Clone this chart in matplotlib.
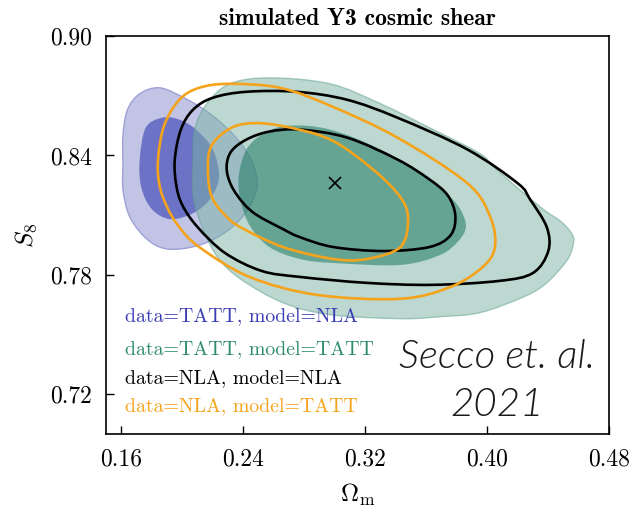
import numpy as np
import matplotlib
matplotlib.use("Agg")
import matplotlib.pyplot as plt
from matplotlib.path import Path
from matplotlib.patches import PathPatch
from matplotlib.ticker import FixedLocator, FormatStrFormatter

plt.rcParams['font.family'] = 'serif'
plt.rcParams['font.serif'] = ['cmr10']
plt.rcParams['mathtext.fontset'] = 'cm'
plt.rcParams['axes.formatter.use_mathtext'] = True

# contour outlines (Omega_m, S8), 68% and 95% levels
blue_95_om = [0.161, 0.161, 0.165, 0.174, 0.185, 0.198, 0.215, 0.231, 0.243, 0.249, 0.245, 0.234, 0.218, 0.201, 0.185, 0.172, 0.164, 0.161]
blue_95_s8 = [0.835, 0.823, 0.810, 0.800, 0.794, 0.793, 0.796, 0.803, 0.813, 0.825, 0.838, 0.850, 0.861, 0.869, 0.874, 0.871, 0.863, 0.850]
blue_68_om = [0.187, 0.198, 0.209, 0.220, 0.224, 0.218, 0.207, 0.192, 0.180, 0.173, 0.172, 0.176]
blue_68_s8 = [0.859, 0.858, 0.853, 0.843, 0.829, 0.818, 0.811, 0.808, 0.813, 0.824, 0.838, 0.854]

green_95_om = [0.257, 0.231, 0.216, 0.208, 0.207, 0.207, 0.213, 0.223, 0.238, 0.266, 0.297, 0.343, 0.369, 0.395,
               0.424, 0.439, 0.452, 0.456, 0.456, 0.448, 0.435, 0.406, 0.395, 0.362, 0.330, 0.297]
green_95_s8 = [0.879, 0.876, 0.866, 0.853, 0.838, 0.820, 0.804, 0.789, 0.778, 0.766, 0.760, 0.758, 0.759, 0.761,
               0.769, 0.776, 0.787, 0.794, 0.800, 0.807, 0.814, 0.833, 0.841, 0.854, 0.866, 0.876]
green_68_om = [0.270, 0.253, 0.242, 0.237, 0.238, 0.244, 0.257, 0.277, 0.299, 0.343, 0.369, 0.381, 0.386, 0.383, 0.376, 0.362, 0.330, 0.297]
green_68_s8 = [0.855, 0.851, 0.843, 0.830, 0.818, 0.805, 0.794, 0.788, 0.786, 0.785, 0.790, 0.797, 0.804, 0.812, 0.819, 0.828, 0.843, 0.853]

black_95_om = [0.195, 0.196, 0.200, 0.210, 0.228, 0.252, 0.277, 0.321, 0.364, 0.408, 0.430, 0.440, 0.439, 0.428,
               0.420, 0.387, 0.341, 0.308, 0.275, 0.242, 0.220, 0.207, 0.199]
black_95_s8 = [0.838, 0.825, 0.815, 0.804, 0.791, 0.782, 0.779, 0.776, 0.775, 0.777, 0.781, 0.792, 0.804, 0.818,
               0.826, 0.843, 0.859, 0.868, 0.872, 0.872, 0.869, 0.863, 0.853]
black_68_om = [0.229, 0.232, 0.242, 0.257, 0.277, 0.308, 0.341, 0.362, 0.374, 0.379, 0.376, 0.362, 0.332, 0.299, 0.277, 0.266, 0.249, 0.240, 0.232]
black_68_s8 = [0.834, 0.842, 0.848, 0.852, 0.853, 0.849, 0.838, 0.828, 0.820, 0.810, 0.800, 0.794, 0.792, 0.794, 0.799, 0.803, 0.810, 0.816, 0.825]

orange_95_om = [0.184, 0.185, 0.190, 0.198, 0.211, 0.244, 0.288, 0.343, 0.376, 0.397, 0.405, 0.402, 0.387,
                0.341, 0.297, 0.264, 0.231, 0.211, 0.198, 0.188]
orange_95_s8 = [0.838, 0.825, 0.814, 0.804, 0.794, 0.779, 0.770, 0.768, 0.774, 0.784, 0.794, 0.809, 0.826,
                0.849, 0.865, 0.874, 0.876, 0.874, 0.868, 0.855]
orange_68_om = [0.218, 0.217, 0.220, 0.228, 0.238, 0.266, 0.299, 0.321, 0.343, 0.348, 0.343, 0.325, 0.297, 0.264, 0.242, 0.228]
orange_68_s8 = [0.843, 0.828, 0.818, 0.810, 0.804, 0.794, 0.788, 0.788, 0.794, 0.808, 0.819, 0.833, 0.848, 0.855, 0.856, 0.852]

fiducial = (0.30, 0.826)

labels = ['data=TATT, model=NLA', 'data=TATT, model=TATT', 'data=NLA, model=NLA', 'data=NLA, model=TATT']
label_colors = ['#3a3db4', '#2f8c6c', 'black', '#f5a31a']
label_y = [0.296, 0.214, 0.141, 0.070]

xticks = [0.16, 0.24, 0.32, 0.40, 0.48]
yticks = [0.72, 0.78, 0.84, 0.90]


def smooth_path(xs, ys):
    # closed catmull-rom curve through the outline points, as cubic beziers
    p = np.column_stack([xs, ys])
    n = len(p)
    verts = [p[0]]
    codes = [Path.MOVETO]
    for i in range(n):
        p0, p1, p2, p3 = p[i - 1], p[i], p[(i + 1) % n], p[(i + 2) % n]
        verts += [p1 + (p2 - p0) / 6, p2 - (p3 - p1) / 6, p2]
        codes += [Path.CURVE4] * 3
    return Path(verts, codes)


fig = plt.figure(figsize=(6.32, 5.15), dpi=100)
ax = fig.add_axes([0.168, 0.157, 0.796, 0.773])

ax.add_patch(PathPatch(smooth_path(blue_95_om, blue_95_s8), fc='#c1c4e4', ec='#9da1d6', lw=1.0))
ax.add_patch(PathPatch(smooth_path(blue_68_om, blue_68_s8), fc='#6c73c6', ec='none'))
ax.add_patch(PathPatch(smooth_path(green_95_om, green_95_s8), fc='#7ab3a3', ec='#5f9f8d', lw=1.0, alpha=0.5))
ax.add_patch(PathPatch(smooth_path(green_68_om, green_68_s8), fc='#1f7a62', ec='none', alpha=0.55))

for xs, ys in [(black_95_om, black_95_s8), (black_68_om, black_68_s8)]:
    ax.add_patch(PathPatch(smooth_path(xs, ys), fc='none', ec='black', lw=1.9))
for xs, ys in [(orange_95_om, orange_95_s8), (orange_68_om, orange_68_s8)]:
    ax.add_patch(PathPatch(smooth_path(xs, ys), fc='none', ec='#f5a31a', lw=1.9))

ax.plot(*fiducial, marker='x', color='black', ms=9, mew=1.2)

ax.set_xlim(0.15, 0.48)
ax.set_ylim(0.70, 0.90)
ax.xaxis.set_major_locator(FixedLocator(xticks))
ax.yaxis.set_major_locator(FixedLocator(yticks))
ax.xaxis.set_major_formatter(FormatStrFormatter('%.2f'))
ax.yaxis.set_major_formatter(FormatStrFormatter('%.2f'))
ax.tick_params(direction='in', length=6, width=1, labelsize=17, pad=10)
for s in ax.spines.values():
    s.set_linewidth(1.2)

ax.set_xlabel(r'$\Omega_{\rm m}$', fontsize=18, labelpad=8)
ax.set_ylabel(r'$S_8$', fontsize=18, labelpad=8)
ax.set_title('simulated Y3 cosmic shear', fontfamily='cmb10', fontsize=17, pad=8)

for lab, c, y in zip(labels, label_colors, label_y):
    ax.text(0.038, y, lab, color=c, fontsize=14.3,
            transform=ax.transAxes, va='center', ha='left')

sig = dict(fontfamily='Lato', fontweight=300, style='italic', fontsize=29,
           color='#1a1a1a', transform=ax.transAxes, ha='center', va='center')
ax.text(0.777, 0.193, 'Secco et. al.', **sig)
ax.text(0.777, 0.073, '2021', **sig)

fig.savefig('out.png', dpi=100)
